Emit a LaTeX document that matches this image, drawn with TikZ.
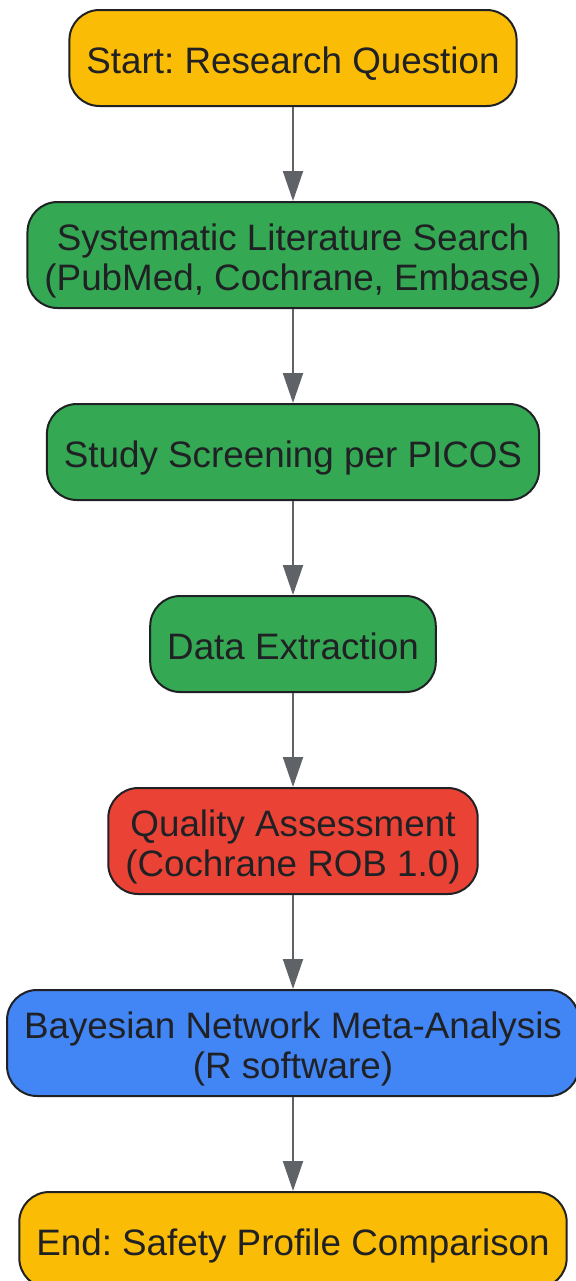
\documentclass[tikz,border=0pt]{standalone}
\usepackage{fontspec}
\setmainfont{Liberation Sans}
\frenchspacing
\usetikzlibrary{positioning,arrows.meta}
\definecolor{gyellow}{HTML}{FBBC05}
\definecolor{ggreen}{HTML}{34A853}
\definecolor{gred}{HTML}{EA4335}
\definecolor{gblue}{HTML}{4285F4}
\definecolor{gtext}{HTML}{202124}
\definecolor{garrow}{HTML}{5F6368}
\tikzset{
  box/.style={draw=gtext,line width=1pt,rounded corners=15pt,align=center,
    text=gtext,font=\fontsize{18.4}{20}\selectfont,inner xsep=8.5pt,inner ysep=8pt,
    minimum height=48pt,text height=15.3pt,text depth=0pt},
  twoline/.style={text height=36pt,text depth=1pt},
  flow/.style={draw=garrow,line width=1pt,-{Triangle[width=10pt,length=15pt]}}
}
\begin{document}
\begin{tikzpicture}[node distance=47pt]
        \useasboundingbox (0,0) rectangle (287.5pt,-640.5pt);
        \node[box,fill=gyellow] (start) at (146.5pt,-29pt) {Start: Research Question};
        \node[box,twoline,fill=ggreen,below=of start] (search) {Systematic Literature Search\\(PubMed, Cochrane, Embase)};
        \node[box,fill=ggreen,below=of search] (screen) {Study Screening per PICOS};
        \node[box,fill=ggreen,below=of screen] (extract) {Data Extraction};
        \node[box,twoline,fill=gred,below=of extract] (quality) {Quality Assessment\\(Cochrane ROB 1.0)};
        \node[box,twoline,fill=gblue,below=of quality] (nma) {Bayesian Network Meta-Analysis\\(R software)};
        \node[box,fill=gyellow,below=of nma] (finish) {End: Safety Profile Comparison};
        \draw[flow] (start) -- (search);
        \draw[flow] (search) -- (screen);
        \draw[flow] (screen) -- (extract);
        \draw[flow] (extract) -- (quality);
        \draw[flow] (quality) -- (nma);
        \draw[flow] (nma) -- (finish);
\end{tikzpicture}
\end{document}
